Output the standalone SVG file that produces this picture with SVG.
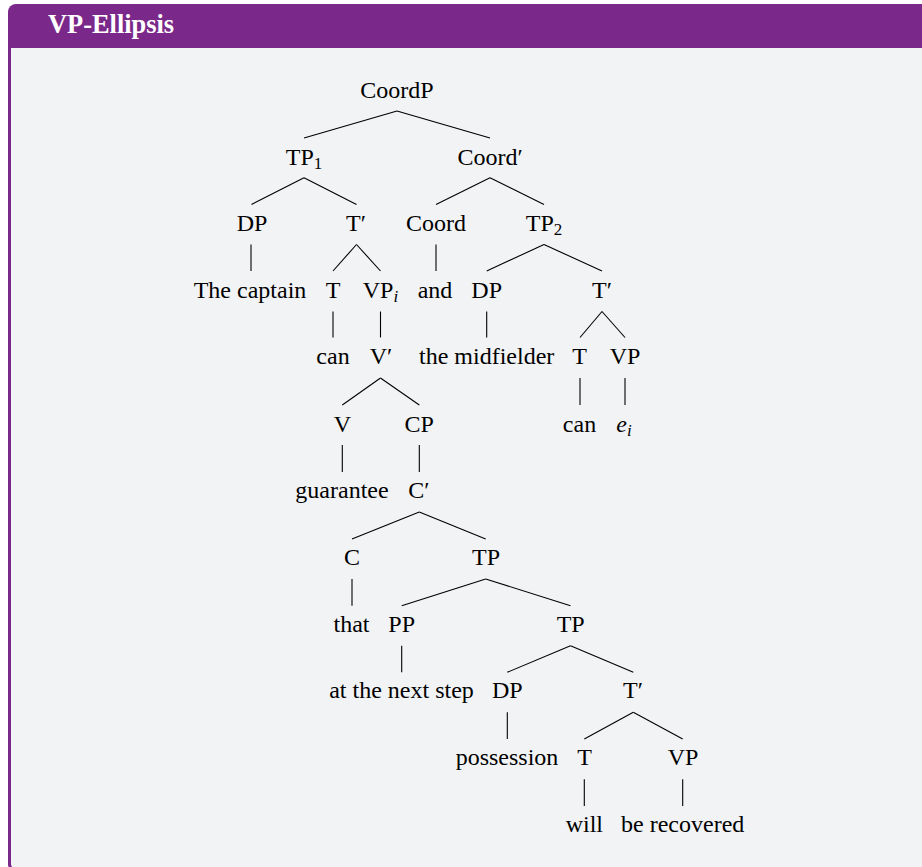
<svg xmlns="http://www.w3.org/2000/svg" width="922" height="867" viewBox="0 0 922 867">
<style>
.n{font-family:"Liberation Serif","Times New Roman",serif;font-size:24px;fill:#000;text-anchor:middle}
.sub{font-size:17px}
.it{font-style:italic}
.e line{stroke:#000;stroke-width:1.1;fill:none}
.title{font-family:"Liberation Serif","Times New Roman",serif;font-size:26.4px;font-weight:bold;fill:#fff}
</style>
<rect width="922" height="867" fill="#fff"/>
<g id="frame">
<rect x="8" y="4" width="940" height="868" rx="8" ry="8" fill="#7A2889"/>
<path d="M11 48 H948 V869 H16 A5 5 0 0 1 11 864 Z" fill="#F2F3F5"/>
<text class="title" x="48" y="33">VP-Ellipsis</text>
</g>
<g id="connectors" class="e">
<line x1="397" y1="111" x2="304" y2="138"/>
<line x1="397" y1="111" x2="490" y2="138"/>
<line x1="304" y1="177.7" x2="251.5" y2="204.5"/>
<line x1="304" y1="177.7" x2="356.5" y2="204.5"/>
<line x1="490" y1="177.7" x2="436" y2="204.5"/>
<line x1="490" y1="177.7" x2="544" y2="204.5"/>
<line x1="251" y1="244.5" x2="251" y2="271"/>
<line x1="356.5" y1="244.5" x2="333" y2="271"/>
<line x1="356.5" y1="244.5" x2="380.5" y2="271"/>
<line x1="436" y1="244.5" x2="436" y2="271"/>
<line x1="544" y1="244.5" x2="486.7" y2="271"/>
<line x1="544" y1="244.5" x2="602" y2="271"/>
<line x1="333" y1="311.5" x2="333" y2="337.5"/>
<line x1="380.5" y1="311.5" x2="380.5" y2="337.5"/>
<line x1="486.7" y1="311.5" x2="486.7" y2="337.5"/>
<line x1="602" y1="311.5" x2="580" y2="337.5"/>
<line x1="602" y1="311.5" x2="625" y2="337.5"/>
<line x1="380.5" y1="378" x2="342.3" y2="405"/>
<line x1="380.5" y1="378" x2="419.3" y2="405"/>
<line x1="580" y1="378" x2="580" y2="405"/>
<line x1="625" y1="378" x2="625" y2="405"/>
<line x1="342.3" y1="445" x2="342.3" y2="472"/>
<line x1="419.3" y1="445" x2="419.3" y2="472"/>
<line x1="419.3" y1="512" x2="352" y2="539"/>
<line x1="419.3" y1="512" x2="485.7" y2="539"/>
<line x1="352" y1="579" x2="352" y2="605.7"/>
<line x1="485.7" y1="579" x2="401.7" y2="605.7"/>
<line x1="485.7" y1="579" x2="570.5" y2="605.7"/>
<line x1="401.7" y1="645.7" x2="401.7" y2="672.3"/>
<line x1="570.5" y1="645.7" x2="507.3" y2="672.3"/>
<line x1="570.5" y1="645.7" x2="633.3" y2="672.3"/>
<line x1="507.3" y1="712.3" x2="507.3" y2="739"/>
<line x1="633.3" y1="712.3" x2="584.3" y2="739"/>
<line x1="633.3" y1="712.3" x2="682.7" y2="739"/>
<line x1="584.3" y1="779.3" x2="584.3" y2="806"/>
<line x1="682.7" y1="779.3" x2="682.7" y2="806"/>
</g>
<g id="n-coordp"><text class="n" x="397" y="98.3">CoordP</text></g>
<g id="n-tp1"><text class="n" x="304" y="165">TP<tspan class="sub" dy="4">1</tspan></text></g>
<g id="n-coordbar"><text class="n" x="490" y="165">Coord′</text></g>
<g id="n-dp1"><text class="n" x="252" y="231">DP</text></g>
<g id="n-tbar1"><text class="n" x="356" y="231">T′</text></g>
<g id="n-coord"><text class="n" x="436" y="231">Coord</text></g>
<g id="n-tp2"><text class="n" x="544" y="231">TP<tspan class="sub" dy="4">2</tspan></text></g>
<g id="n-thecaptain"><text class="n" x="250" y="297.5">The captain</text></g>
<g id="n-t1"><text class="n" x="333" y="297.5">T</text></g>
<g id="n-vpi"><text class="n" x="380.5" y="297.5">VP<tspan class="sub it" dy="4">i</tspan></text></g>
<g id="n-and"><text class="n" x="435" y="297.5">and</text></g>
<g id="n-dp2"><text class="n" x="486.7" y="297.5">DP</text></g>
<g id="n-tbar2"><text class="n" x="602" y="297.5">T′</text></g>
<g id="n-can1"><text class="n" x="333" y="364">can</text></g>
<g id="n-vbar"><text class="n" x="381" y="364">V′</text></g>
<g id="n-midfielder"><text class="n" x="486.7" y="364">the midfielder</text></g>
<g id="n-t2"><text class="n" x="579.5" y="364">T</text></g>
<g id="n-vp2"><text class="n" x="625" y="364">VP</text></g>
<g id="n-v"><text class="n" x="342.3" y="431.5">V</text></g>
<g id="n-cp"><text class="n" x="419.3" y="431.5">CP</text></g>
<g id="n-can2"><text class="n" x="579.5" y="431.5">can</text></g>
<g id="n-ei"><text class="n" x="624" y="431.5"><tspan class="it">e</tspan><tspan class="sub it" dy="4">i</tspan></text></g>
<g id="n-guarantee"><text class="n" x="342" y="498.3">guarantee</text></g>
<g id="n-cbar"><text class="n" x="419" y="498.3">C′</text></g>
<g id="n-c"><text class="n" x="352" y="565">C</text></g>
<g id="n-tp3"><text class="n" x="486" y="565">TP</text></g>
<g id="n-that"><text class="n" x="351.5" y="631.7">that</text></g>
<g id="n-pp"><text class="n" x="401.7" y="631.7">PP</text></g>
<g id="n-tp4"><text class="n" x="570.7" y="631.7">TP</text></g>
<g id="n-nextstep"><text class="n" x="401.5" y="698.3">at the next step</text></g>
<g id="n-dp3"><text class="n" x="507.3" y="698.3">DP</text></g>
<g id="n-tbar3"><text class="n" x="633" y="698.3">T′</text></g>
<g id="n-possession"><text class="n" x="507" y="765">possession</text></g>
<g id="n-t3"><text class="n" x="584.5" y="765">T</text></g>
<g id="n-vp3"><text class="n" x="683" y="765">VP</text></g>
<g id="n-will"><text class="n" x="584.3" y="831.7">will</text></g>
<g id="n-recovered"><text class="n" x="682.7" y="831.7">be recovered</text></g>
</svg>
